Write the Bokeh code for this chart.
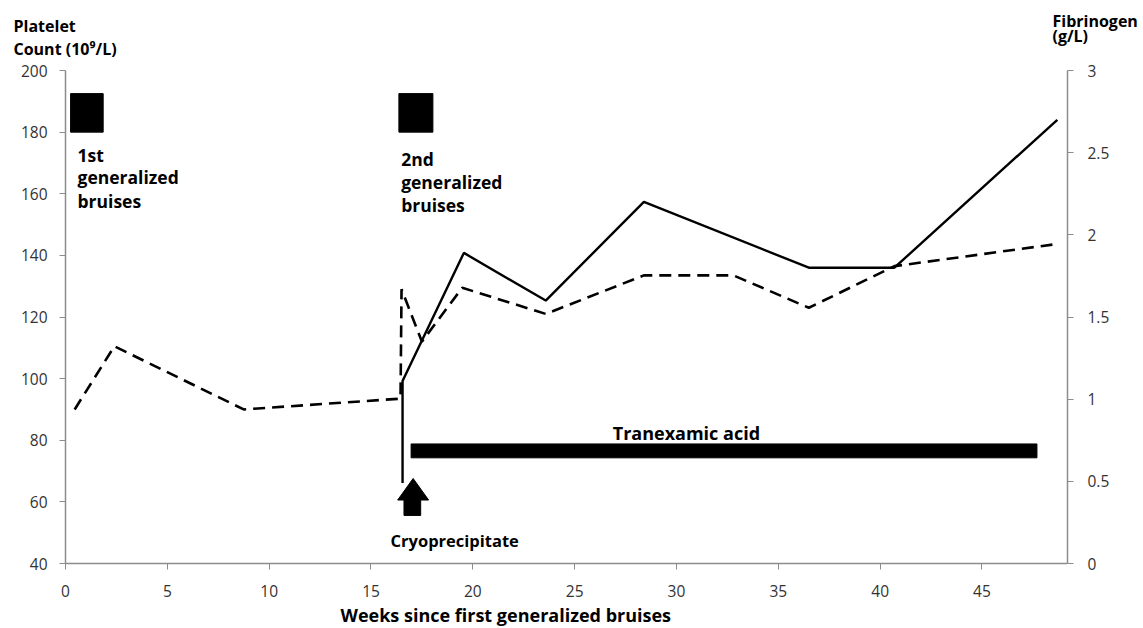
from bokeh.plotting import figure
from bokeh.models import Range1d, LinearAxis, FixedTicker, Label, Title
from bokeh.embed import file_html
from bokeh.resources import INLINE

# ---------------- data ----------------
weeks_platelet = [0.45, 2.4, 8.75, 16.45, 16.5, 17.5, 19.48, 23.58, 28.4, 32.8, 36.5, 40.7, 48.46]
platelet = [90, 110.5, 90, 93.5, 129, 112, 129.5, 121, 133.5, 133.5, 123, 136.5, 143.5]

weeks_fibrinogen = [16.55, 16.55, 19.56, 23.58, 28.4, 36.5, 40.7, 48.7]
fibrinogen = [0.49, 1.11, 1.89, 1.60, 2.20, 1.80, 1.80, 2.70]

x_ticks = [0, 5, 10, 15, 20, 25, 30, 35, 40, 45]
left_ticks = [40, 60, 80, 100, 120, 140, 160, 180, 200]
right_ticks = [0, 0.5, 1, 1.5, 2, 2.5, 3]
right_tick_labels = ["0", "0.5", "1", "1.5", "2", "2.5", "3"]

# event markers (weeks, platelet-axis units)
bruise_events = [(0.25, 1.85), (16.37, 18.04)]
bruise_box_y = (180, 192.5)
tranexamic_span = (16.97, 47.7)
tranexamic_y = (74.3, 78.8)
arrow_x = [17.07, 17.83, 17.44, 17.44, 16.62, 16.62, 16.31]
arrow_y = [67.6, 60.6, 60.6, 55.6, 55.6, 60.6, 60.6]

FONT = "Open Sans"
AXIS_GREY = "#8c8c8c"
W, H = 1143, 628

p = figure(width=W, height=H, output_backend="svg", toolbar_location=None,
           x_range=Range1d(0, 49.2), y_range=Range1d(40, 200),
           min_border_left=65, min_border_right=76, min_border_top=70, min_border_bottom=65)
p.outline_line_color = None
p.xgrid.visible = False
p.ygrid.visible = False
p.extra_y_ranges = {"fib": Range1d(0, 3)}

for ax in (p.xaxis[0], p.yaxis[0]):
    ax.axis_line_color = AXIS_GREY
    ax.axis_line_width = 1.5
    ax.major_tick_line_color = AXIS_GREY
    ax.major_tick_in = 0
    ax.major_tick_out = 6
    ax.minor_tick_line_color = None
    ax.major_label_text_font = FONT
    ax.major_label_text_font_size = "15.5px"
    ax.major_label_text_color = "#333333"
p.yaxis.major_label_standoff = 12
p.xaxis.major_label_standoff = 15

p.xaxis.ticker = FixedTicker(ticks=x_ticks)
p.yaxis.ticker = FixedTicker(ticks=left_ticks)

rax = LinearAxis(y_range_name="fib", ticker=FixedTicker(ticks=right_ticks))
rax.major_label_overrides = {t: s for t, s in zip(right_ticks, right_tick_labels)}
rax.axis_line_color = AXIS_GREY
rax.axis_line_width = 1.5
rax.major_tick_line_color = AXIS_GREY
rax.major_tick_in = 0
rax.major_tick_out = 6
rax.minor_tick_line_color = None
rax.major_label_text_font = FONT
rax.major_label_text_font_size = "15.5px"
rax.major_label_text_color = "#333333"
rax.major_label_standoff = 14
p.add_layout(rax, "right")

# series
p.line(weeks_platelet, platelet, line_color="black", line_width=2.6, line_dash="12 7")
p.line(weeks_fibrinogen, fibrinogen, y_range_name="fib", line_color="black", line_width=2.4)

# bruise event boxes
p.quad(left=[b[0] for b in bruise_events], right=[b[1] for b in bruise_events],
       bottom=bruise_box_y[0], top=bruise_box_y[1], color="black")

# tranexamic acid bar
p.quad(left=[tranexamic_span[0]], right=[tranexamic_span[1]],
       bottom=[tranexamic_y[0]], top=[tranexamic_y[1]], color="black")

# cryoprecipitate arrow
p.patch(arrow_x, arrow_y, color="black")

def lab(x, y, text, size, align="left", baseline="alphabetic"):
    p.add_layout(Label(x=x, y=y, text=text, text_font=FONT, text_font_style="bold",
                       text_font_size=size, text_color="black", text_align=align,
                       text_baseline=baseline))

# event texts
for t, y in zip(["1st", "generalized", "bruises"], [172.7, 165.3, 157.8]):
    lab(0.59, y, t, "17.5px")
for t, y in zip(["2nd", "generalized", "bruises"], [171.3, 163.7, 156.2]):
    lab(16.48, y, t, "17.5px")
lab(26.87, 82.4, "Tranexamic acid", "18px")
lab(15.96, 47.5, "Cryoprecipitate", "16.5px")

# axis titles as stacked titles (inner first)
def title(text, offset, standoff, place="above", size="16px", baseline="bottom"):
    p.add_layout(Title(text=text, align="left", offset=offset, standoff=standoff,
                       text_font=FONT, text_font_style="bold", text_font_size=size,
                       text_color="black", text_baseline=baseline), place)

title("Count (10\u2079/L)", -52, 21)
title("(g/L)", 987, -42.5)
title("Platelet", -52, -22.5)
title("Fibrinogen", 987, -16.5)
title("Weeks since first generalized bruises", 275, -55, place="below", size="18px",
      baseline="middle")

open("out.html", "w").write(file_html(p, INLINE))
